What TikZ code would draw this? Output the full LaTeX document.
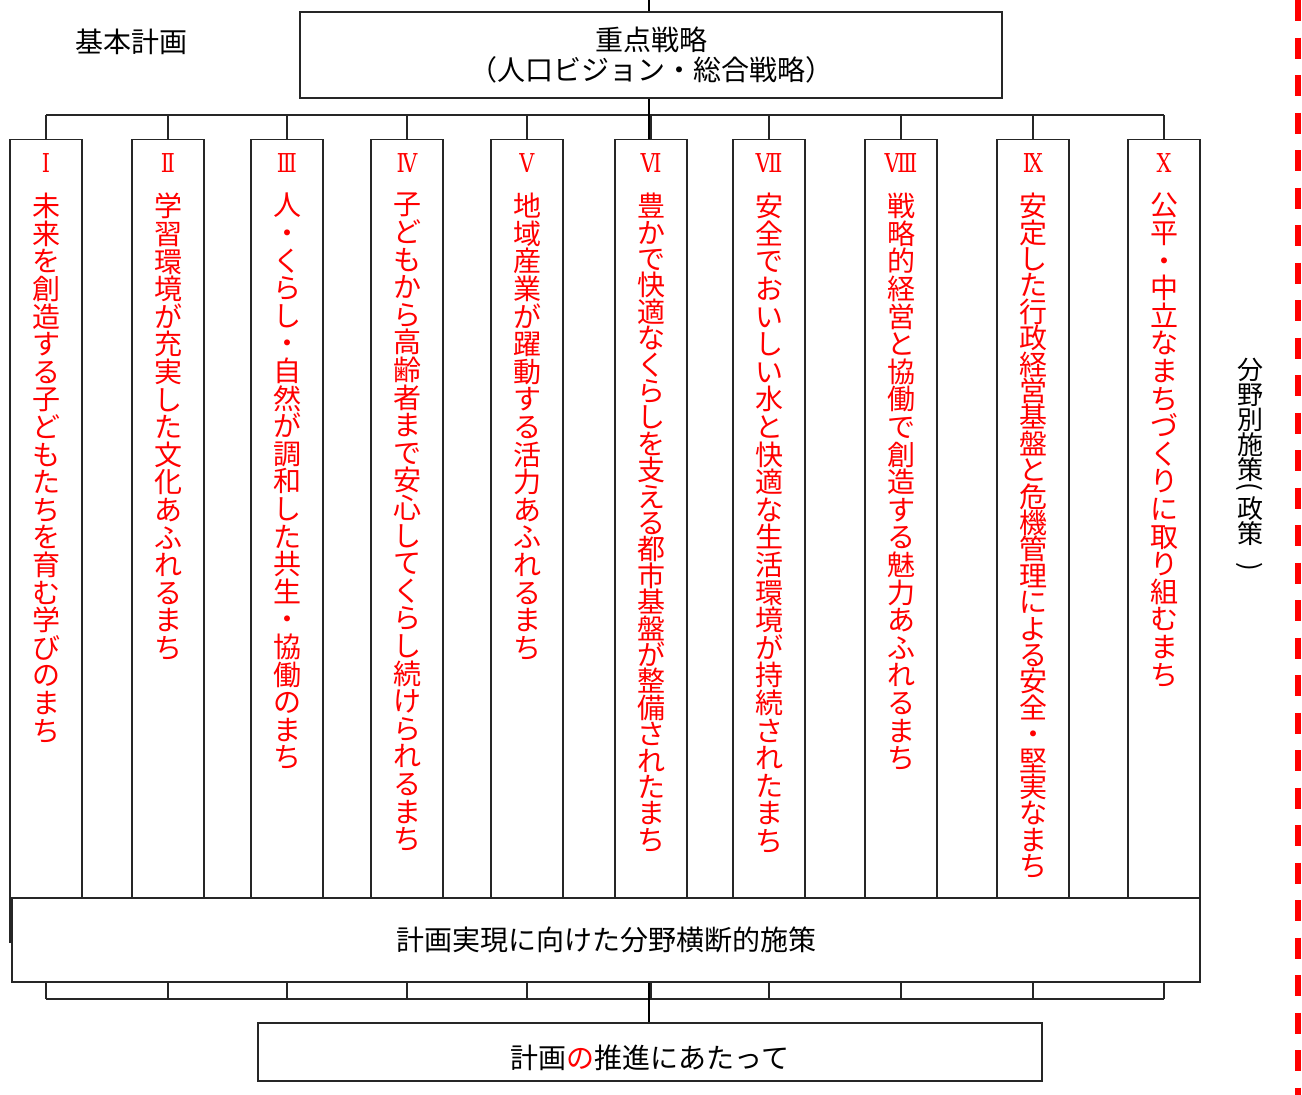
\documentclass[tikz,border=0pt]{standalone}
\usepackage{fontspec}
\setmainfont{Noto Sans CJK JP}
\newfontfamily\romanfont[FakeStretch=0.8]{DejaVu Serif}
\usepackage{graphicx}
\usepackage{tikz}

\makeatletter
\newcommand\tate[2]{\edef\tate@list{#2}\vbox{\baselineskip=#1\lineskiplimit=-\maxdimen
	\expandafter\@tfor\expandafter\tatechar\expandafter:\expandafter=\tate@list\do{\hbox to 1em{\hss\tatechar\hss}}}}
\makeatother

\begin{document}
\begin{tikzpicture}[x=1pt, y=-1pt,
	box/.style={draw=black!85, line width=1.3pt, fill=white, inner sep=0pt, align=center, font=\fontsize{28}{30}\selectfont},
	colbox/.style={draw=black!85, line width=1.3pt, anchor=north, minimum width=72pt, inner sep=0pt},
	numtext/.style={text=red, inner sep=0pt, font=\romanfont\fontsize{26}{26}\selectfont},
	coltext/.style={text=red, anchor=north, inner sep=0pt, font=\fontsize{28}{28}\selectfont},
	bus/.style={draw=black!85, line width=1.3pt},
	trunk/.style={draw=black, line width=2.4pt}]

\useasboundingbox (0,0) rectangle (1302,1095);

\coordinate (pagetop) at (649,0);
\coordinate (bustop) at (0,115);
\coordinate (busbot) at (0,999);

\node[inner sep=0pt, font=\fontsize{28}{30}\selectfont] (title) at (131,42) {基本計画};
\node[box, minimum width=702pt, minimum height=86pt] (strat) at (651,55) {重点戦略\\（人口ビジョン・総合戦略）};

\foreach \cx/\rn/\pitch/\h/\words [count=\i] in {
	46/Ⅰ/27.6/803/{未来を創造する子どもたちを育む学びのまち},
	168/Ⅱ/27.6/759/{学習環境が充実した文化あふれるまち},
	287/Ⅲ/27.6/759/{人・くらし・自然が調和した共生・協働のまち},
	407/Ⅳ/27.6/759/{子どもから高齢者まで安心してくらし続けられるまち},
	527/Ⅴ/27.6/759/{地域産業が躍動する活力あふれるまち},
	651/Ⅵ/26.4/759/{豊かで快適なくらしを支える都市基盤が整備されたまち},
	769/Ⅶ/27.6/759/{安全でおいしい水と快適な生活環境が持続されたまち},
	901/Ⅷ/27.6/759/{戦略的経営と協働で創造する魅力あふれるまち},
	1033/Ⅸ/26.4/759/{安定した行政経営基盤と危機管理による安全・堅実なまち},
	1164/Ⅹ/27.6/759/{公平・中立なまちづくりに取り組むまち}}
{
	\node[colbox, minimum height=\h pt] (col\i) at (\cx,139) {};
	\node[numtext] (num\i) at (\cx,163) {\rn};
	\node[coltext] (txt\i) at (\cx,193) {\tate{\pitch pt}{\words}};
	\draw[bus] (col\i.north) -- (col\i.north |- bustop);
}
\draw[bus] (col1.north |- bustop) -- (col10.north |- bustop);

\node[box, minimum width=1188pt, minimum height=84pt] (cross) at (606,940) {計画実現に向けた分野横断的施策};
\node[box, minimum width=784pt, minimum height=58pt, text height=36.6pt, text depth=3.4pt] (promo) at (650,1052) {計画\textcolor{red}{の}推進にあたって};

\foreach \i in {1,...,10}
	\draw[bus] (col\i.north |- cross.south) -- (col\i.north |- busbot);
\draw[bus] (col1.north |- busbot) -- (col10.north |- busbot);

\draw[trunk] (pagetop) -- (pagetop |- strat.north);
\draw[trunk] (pagetop |- strat.south) -- (pagetop |- col6.north);
\draw[trunk] (pagetop |- cross.south) -- (pagetop |- promo.north);

\node[inner sep=0pt, align=center, font=\fontsize{26}{25}\selectfont] (field) at (1250,465) {分\\野\\別\\施\\策\\[-22pt]\rotatebox{-90}{(}\\[4pt]政\\策\\[-6pt]\rotatebox{-90}{)}};

\draw[red, line width=6pt, dash pattern=on 21pt off 16.5pt] (1298,0) -- (1298,1095);

%\draw (0,0) rectangle (1302,1095);

\end{tikzpicture}
\end{document}
